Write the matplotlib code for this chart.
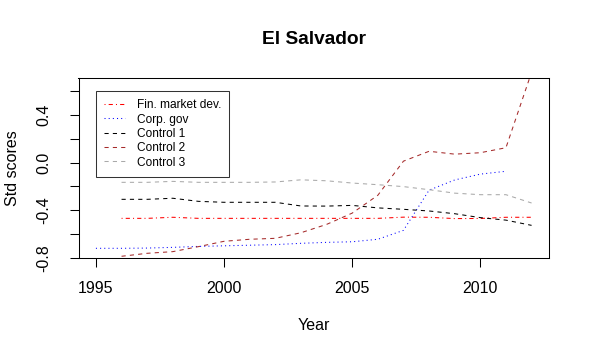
import matplotlib
matplotlib.use('Agg')
import matplotlib.pyplot as plt

plt.rcParams['font.family'] = ['Liberation Sans', 'DejaVu Sans']

# ---- data ----
years_corp = list(range(1995, 2012))
years = list(range(1996, 2013))

fin_market = [-0.469, -0.469, -0.460, -0.469, -0.469, -0.469, -0.469, -0.469, -0.469,
              -0.469, -0.469, -0.459, -0.460, -0.471, -0.470, -0.460, -0.460]
corp_gov = [-0.721, -0.721, -0.719, -0.713, -0.705, -0.700, -0.695, -0.690, -0.679,
            -0.671, -0.666, -0.645, -0.570, -0.232, -0.146, -0.097, -0.073]
control1 = [-0.309, -0.309, -0.300, -0.326, -0.334, -0.334, -0.334, -0.365, -0.366,
            -0.360, -0.381, -0.393, -0.407, -0.430, -0.463, -0.484, -0.528]
control2 = [-0.788, -0.763, -0.749, -0.707, -0.662, -0.645, -0.637, -0.590, -0.520,
            -0.425, -0.275, 0.012, 0.095, 0.071, 0.083, 0.125, 0.760]
control3 = [-0.166, -0.166, -0.158, -0.166, -0.166, -0.166, -0.163, -0.145, -0.153,
            -0.172, -0.186, -0.202, -0.228, -0.257, -0.270, -0.270, -0.340]

series_labels = ["Fin. market dev.", "Corp. gov", "Control 1", "Control 2", "Control 3"]
x_ticks = [1995, 2000, 2005, 2010]
y_ticks = [-0.8, -0.6, -0.4, -0.2, 0.0, 0.2, 0.4, 0.6]
y_ticklabels = ["-0.8", "", "-0.4", "", "0.0", "", "0.4", ""]

# ---- figure ----
W, H = 590, 356
fig = plt.figure(figsize=(W / 100, H / 100), dpi=100)
L, R, T, B = 78.5, 549.0, 78.3, 257.7
ax = fig.add_axes([L / W, 1 - B / H, (R - L) / W, (B - T) / H])

lw = 0.75
ax.plot(years, fin_market, color='red', lw=lw, dashes=(1, 3, 4, 3), label=series_labels[0])
ax.plot(years_corp, corp_gov, color='blue', lw=lw, dashes=(1, 3), label=series_labels[1])
ax.plot(years, control1, color='black', lw=lw, dashes=(4, 4), label=series_labels[2])
ax.plot(years, control2, color='#A52A2A', lw=lw, dashes=(4, 4), label=series_labels[3])
ax.plot(years, control3, color='#A9A9A9', lw=lw, dashes=(4, 4), label=series_labels[4])

ax.set_xlim(1994.32, 2012.68)
ax.set_ylim(-0.80, 0.709)

ax.set_xticks(x_ticks)
ax.set_xticklabels([str(v) for v in x_ticks])
ax.set_yticks(y_ticks)
ax.set_yticklabels(y_ticklabels, rotation=90, va='center')

ax.tick_params(axis='both', direction='out', length=6.5, width=0.75, labelsize=11.5, color='black')
ax.tick_params(axis='x', pad=10.5)
ax.tick_params(axis='y', pad=13)

for sp in ax.spines.values():
    sp.set_linewidth(0.75)
    sp.set_color('black')

leg = ax.legend(loc='upper left', bbox_to_anchor=((96 - L) / (R - L), 1 - (91 - T) / (B - T)),
                borderaxespad=0, fontsize=8.6, frameon=True, fancybox=False,
                handlelength=1.75, handletextpad=1.0, labelspacing=0.2, borderpad=0.68)
leg.get_frame().set_edgecolor('black')
leg.get_frame().set_linewidth(0.75)

fig.text((L + R) / 2 / W, 1 - 39.7 / H, "El Salvador", ha='center', va='center',
         fontsize=13.8, fontweight='bold')
fig.text((L + R) / 2 / W, 1 - 326 / H, "Year", ha='center', va='center', fontsize=11.5)
fig.text(12.5 / W, 1 - (T + B) / 2 / H, "Std scores", ha='center', va='center',
         rotation=90, fontsize=11.5)

fig.savefig('out.png', dpi=100)
